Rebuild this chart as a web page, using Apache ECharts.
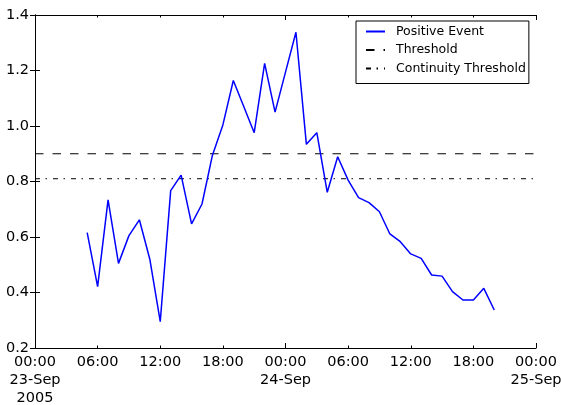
<!DOCTYPE html>
<html>
<head>
<meta charset="utf-8">
<script src="https://cdn.jsdelivr.net/npm/echarts@6/dist/echarts.min.js"></script>
<style>
  html, body { margin: 0; padding: 0; background: #fff; }
  #chart { width: 561px; height: 405px; }
</style>
</head>
<body>
<div id="chart"></div>
<script>
// Hours elapsed since 2005-09-23 00:00 for each observation
var hours = [5, 6, 7, 8, 9, 10, 11, 12, 13, 14, 15, 16, 17, 18, 19, 20, 21, 22, 23, 24,
             25, 26, 27, 28, 29, 30, 31, 32, 33, 34, 35, 36, 37, 38, 39, 40, 41, 42, 43, 44];
// Positive event signal
var positiveEvent = [0.616, 0.421, 0.734, 0.505, 0.605, 0.662, 0.52, 0.295, 0.767, 0.823,
                     0.647, 0.719, 0.895, 1.004, 1.164, 1.07, 0.976, 1.226, 1.05, 1.194,
                     1.338, 0.934, 0.976, 0.761, 0.889, 0.805, 0.742, 0.724, 0.691, 0.611,
                     0.583, 0.539, 0.523, 0.463, 0.459, 0.403, 0.373, 0.373, 0.415, 0.337];
var threshold = 0.9;
var continuityThreshold = 0.81;
// Axis span in hours and tick labels every six hours
var xRange = [0, 48];
var xTickLabels = ['00:00\n23-Sep\n2005', '06:00', '12:00', '18:00', '00:00\n24-Sep',
                   '06:00', '12:00', '18:00', '00:00\n25-Sep'];
var yRange = [0.2, 1.4];

var FONT = 'DejaVu Sans';
var chart = echarts.init(document.getElementById('chart'), null, { renderer: 'canvas' });

function pairs(xs, ys) {
  return xs.map(function (x, i) { return [x, ys[i]]; });
}

function frameX(pos, interval, tickLen, showLine, showLabel) {
  return {
    type: 'value', position: pos, min: xRange[0], max: xRange[1], interval: interval,
    axisLine: { show: showLine, lineStyle: { color: '#000', width: 1 } },
    axisTick: { show: true, inside: true, length: tickLen, lineStyle: { color: '#000', width: 1 } },
    axisLabel: showLabel ? {
      show: true, margin: 5, color: '#000', fontFamily: FONT, fontSize: 14.5, lineHeight: 18,
      verticalAlign: 'top', hideOverlap: false,
      formatter: function (v) { return xTickLabels[Math.round(v / 6)]; }
    } : { show: false },
    splitLine: { show: false }
  };
}

function frameY(pos, showLabel) {
  return {
    type: 'value', position: pos, min: yRange[0], max: yRange[1], interval: 0.2,
    axisLine: { show: true, lineStyle: { color: '#000', width: 1 } },
    axisTick: { show: true, inside: true, length: 5, lineStyle: { color: '#000', width: 1 } },
    axisLabel: showLabel ? {
      show: true, margin: 6, color: '#000', fontFamily: FONT, fontSize: 14.5,
      formatter: function (v) { return v.toFixed(1); }
    } : { show: false },
    splitLine: { show: false }
  };
}

chart.setOption({
  animation: false,
  backgroundColor: '#fff',
  grid: { left: 35, right: 25, top: 15, bottom: 57, containLabel: false, outerBoundsMode: 'none' },
  xAxis: [
    frameX('bottom', 6, 2.5, true, true),
    frameX('bottom', 24, 5, false, false),
    frameX('top', 6, 2.5, true, false),
    frameX('top', 24, 5, false, false)
  ],
  yAxis: [
    frameY('left', true),
    frameY('right', false)
  ],
  legend: {
    orient: 'vertical',
    left: 356, top: 21,
    padding: [3.5, 3, 8, 9],
    itemWidth: 19, itemHeight: 14, itemGap: 4.5,
    borderColor: '#000', borderWidth: 1, borderRadius: 0,
    backgroundColor: '#fff',
    itemStyle: { opacity: 0 },
    textStyle: { fontFamily: FONT, fontSize: 12.5, lineHeight: 14, color: '#000', padding: [0, 0, 0, 6] },
    data: ['Positive Event', 'Threshold', 'Continuity Threshold']
  },
  series: [
    {
      name: 'Positive Event', type: 'line', xAxisIndex: 0, yAxisIndex: 0,
      data: pairs(hours, positiveEvent),
      symbol: 'none', showSymbol: false,
      lineStyle: { color: '#0000ff', width: 1.5 },
      itemStyle: { color: '#0000ff' },
      z: 3
    },
    {
      name: 'Threshold', type: 'line', xAxisIndex: 0, yAxisIndex: 0,
      data: pairs(xRange, [threshold, threshold]),
      symbol: 'none', showSymbol: false,
      lineStyle: { color: '#000', width: 1, type: [8.5, 9] },
      itemStyle: { color: '#000' },
      z: 2
    },
    {
      name: 'Continuity Threshold', type: 'line', xAxisIndex: 0, yAxisIndex: 0,
      data: pairs(xRange, [continuityThreshold, continuityThreshold]),
      symbol: 'none', showSymbol: false,
      lineStyle: { color: '#000', width: 1, type: [5, 5.5, 1.5, 6] },
      itemStyle: { color: '#000' },
      z: 2
    }
  ]
});
</script>
</body>
</html>
